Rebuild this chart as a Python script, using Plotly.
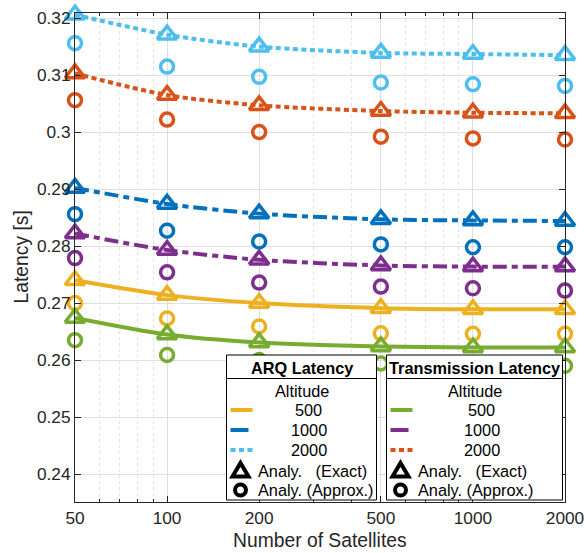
import plotly.graph_objects as go

# ---------------- data ----------------
satellites = [50, 100, 200, 500, 1000, 2000]
x_tick_labels = ["50", "100", "200", "500", "1000", "2000"]
y_tick_vals = [0.24, 0.25, 0.26, 0.27, 0.28, 0.29, 0.30, 0.31, 0.32]
y_tick_labels = ["0.24", "0.25", "0.26", "0.27", "0.28", "0.29", "0.3", "0.31", "0.32"]

# ARQ latency (altitude 500 / 1000 / 2000 km)
arq_500_exact = [0.2740, 0.2714, 0.2700, 0.2691, 0.2689, 0.2689]
arq_500_approx = [0.2700, 0.2673, 0.2659, 0.2647, 0.2646, 0.2646]
arq_1000_exact = [0.2902, 0.2874, 0.2857, 0.2847, 0.2845, 0.2844]
arq_1000_approx = [0.2856, 0.2827, 0.2808, 0.2803, 0.2798, 0.2798]
arq_2000_exact = [0.3206, 0.3171, 0.3150, 0.3139, 0.3137, 0.3135]
arq_2000_approx = [0.3156, 0.3115, 0.3097, 0.3087, 0.3084, 0.3081]

# Transmission latency
tx_500_exact = [0.2674, 0.2645, 0.2631, 0.2624, 0.2622, 0.2622]
tx_500_approx = [0.2635, 0.2609, 0.2600, 0.2594, 0.2591, 0.2590]
tx_1000_exact = [0.2822, 0.2793, 0.2776, 0.2766, 0.2764, 0.2764]
tx_1000_approx = [0.2779, 0.2754, 0.2736, 0.2729, 0.2726, 0.2722]
tx_2000_exact = [0.3103, 0.3065, 0.3047, 0.3037, 0.3034, 0.3033]
tx_2000_approx = [0.3056, 0.3022, 0.3000, 0.2992, 0.2989, 0.2987]

altitudes = ["500", "1000", "2000"]

# ---------------- styles ----------------
YELLOW = "#EDB120"
BLUE = "#0072BD"
LIGHTBLUE = "#4DBEEE"
GREEN = "#77AC30"
PURPLE = "#7E2F8E"
ORANGE = "#D95319"
DOT = "5px,3.5px"
DASHDOT = "14px,5px,6px,5px"
LW = 4
FONT = "Liberation Sans, Arial, sans-serif"
TXT = "#262626"

series = [
    (arq_500_exact, arq_500_approx, YELLOW, "solid"),
    (arq_1000_exact, arq_1000_approx, BLUE, DASHDOT),
    (arq_2000_exact, arq_2000_approx, LIGHTBLUE, DOT),
    (tx_500_exact, tx_500_approx, GREEN, "solid"),
    (tx_1000_exact, tx_1000_approx, PURPLE, DASHDOT),
    (tx_2000_exact, tx_2000_approx, ORANGE, DOT),
]

fig = go.Figure()
for exact, approx, color, dash in series:
    fig.add_trace(go.Scatter(x=satellites, y=exact, mode="lines",
                             line=dict(color=color, width=LW, dash=dash, shape="spline", smoothing=0.8),
                             showlegend=False, hoverinfo="skip"))
    fig.add_trace(go.Scatter(x=satellites, y=exact, mode="markers", cliponaxis=False,
                             marker=dict(symbol="triangle-up-open", size=17, color=color,
                                         line=dict(width=3.5, color=color)),
                             showlegend=False))
    fig.add_trace(go.Scatter(x=satellites, y=approx, mode="markers", cliponaxis=False,
                             marker=dict(symbol="circle-open", size=13, color=color,
                                         line=dict(width=3.5, color=color)),
                             showlegend=False))

# ---------------- layout geometry (pixels) ----------------
W, H = 586, 553
ML, MR, MT, MB = 75, 21, 13, 51
PW, PH = W - ML - MR, H - MT - MB


def px(xp):
    return (xp - ML) / PW


def py(yp):
    return (H - MB - yp) / PH


shapes = []
annotations = []


def legend_box(x0, x1, title, colors, dashes):
    y0, y1 = 355, 500
    shapes.append(dict(type="rect", xref="paper", yref="paper", x0=px(x0), x1=px(x1),
                       y0=py(y1), y1=py(y0), fillcolor="white",
                       line=dict(color="#000000", width=1), layer="above"))
    shapes.append(dict(type="line", xref="paper", yref="paper", x0=px(x0), x1=px(x1),
                       y0=py(378.5), y1=py(378.5), line=dict(color="#000000", width=1), layer="above"))
    cx = (x0 + x1) / 2
    annotations.append(dict(x=px(cx), y=py(367.5), xref="paper", yref="paper", text="<b>" + title + "</b>",
                            showarrow=False, xanchor="center", yanchor="middle",
                            font=dict(size=16.3, color="#000000", family=FONT)))
    annotations.append(dict(x=px(cx), y=py(390.5), xref="paper", yref="paper", text="Altitude",
                            showarrow=False, xanchor="center", yanchor="middle",
                            font=dict(size=16.3, color="#000000", family=FONT)))
    gx = x0 + 4
    for i, (alt, col, ds) in enumerate(zip(altitudes, colors, dashes)):
        yy = 410 + 20 * i
        if ds == DASHDOT:
            seg_len, seg_dash = 18, "solid"
        else:
            seg_len, seg_dash = 22, ds
        shapes.append(dict(type="line", xref="paper", yref="paper", x0=px(gx), x1=px(gx + seg_len),
                           y0=py(yy), y1=py(yy), line=dict(color=col, width=LW, dash=seg_dash), layer="above"))
        annotations.append(dict(x=px(cx + 7), y=py(yy), xref="paper", yref="paper", text=alt,
                                showarrow=False, xanchor="center", yanchor="middle",
                                font=dict(size=16.3, color="#000000", family=FONT)))
    # triangle glyph
    tx, ty = gx + 10, 470.5
    shapes.append(dict(type="path", xref="paper", yref="paper", xsizemode="pixel", ysizemode="pixel",
                       xanchor=px(tx), yanchor=py(ty), path="M -8,-6 L 8,-6 L 0,7.5 Z",
                       line=dict(color="#000000", width=4), fillcolor="white", layer="above"))
    shapes.append(dict(type="circle", xref="paper", yref="paper", xsizemode="pixel", ysizemode="pixel",
                       xanchor=px(tx), yanchor=py(490), x0=-5.5, x1=5.5, y0=-5.5, y1=5.5,
                       line=dict(color="#000000", width=4), fillcolor="white", layer="above"))
    annotations.append(dict(x=px(gx + 25), y=py(470.5), xref="paper", yref="paper",
                            text="Analy.&nbsp;&nbsp;&nbsp;(Exact)",
                            showarrow=False, xanchor="left", yanchor="middle",
                            font=dict(size=16.3, color="#000000", family=FONT)))
    annotations.append(dict(x=px(gx + 25), y=py(490), xref="paper", yref="paper",
                            text="Analy. (Approx.)",
                            showarrow=False, xanchor="left", yanchor="middle",
                            font=dict(size=16.3, color="#000000", family=FONT)))


legend_box(226.5, 376.5, "ARQ Latency", [YELLOW, BLUE, LIGHTBLUE], ["solid", DASHDOT, DOT])
legend_box(386.5, 562.5, "Transmission Latency", [GREEN, PURPLE, ORANGE], ["solid", DASHDOT, DOT])

# axis titles
annotations.append(dict(x=px(21), y=0.5, xref="paper", yref="paper", text="Latency [s]", textangle=-90,
                        showarrow=False, xanchor="center", yanchor="middle",
                        font=dict(size=19.3, color=TXT, family=FONT)))
annotations.append(dict(x=0.5, y=py(540), xref="paper", yref="paper", text="Number of Satellites",
                        showarrow=False, xanchor="center", yanchor="middle",
                        font=dict(size=19.3, color=TXT, family=FONT)))

fig.update_layout(
    width=W, height=H,
    margin=dict(l=ML, r=MR, t=MT, b=MB, autoexpand=False),
    paper_bgcolor="white", plot_bgcolor="white",
    font=dict(family=FONT, size=17, color=TXT),
    shapes=shapes, annotations=annotations,
    showlegend=False,
)
fig.update_xaxes(
    type="log", range=[1.69897, 3.30103],
    tickvals=satellites, ticktext=x_tick_labels,
    showline=True, linecolor=TXT, linewidth=1, mirror="allticks",
    ticks="inside", ticklen=6, tickcolor=TXT,
    showgrid=True, gridcolor="#DFDFDF", gridwidth=1,
    zeroline=False,
    minor=dict(dtick="D1", ticks="inside", ticklen=3, tickcolor=TXT,
               showgrid=True, gridcolor="#E3E3E3", griddash="dot", gridwidth=1),
    tickfont=dict(size=17.3, color=TXT, family=FONT),
)
fig.update_yaxes(
    range=[0.2351, 0.3209],
    tickvals=y_tick_vals, ticktext=y_tick_labels,
    showline=True, linecolor=TXT, linewidth=1, mirror="allticks",
    ticks="inside", ticklen=6, tickcolor=TXT,
    showgrid=True, gridcolor="#DFDFDF", gridwidth=1,
    zeroline=False,
    tickfont=dict(size=17.3, color=TXT, family=FONT),
)

fig.write_html("out.html")
